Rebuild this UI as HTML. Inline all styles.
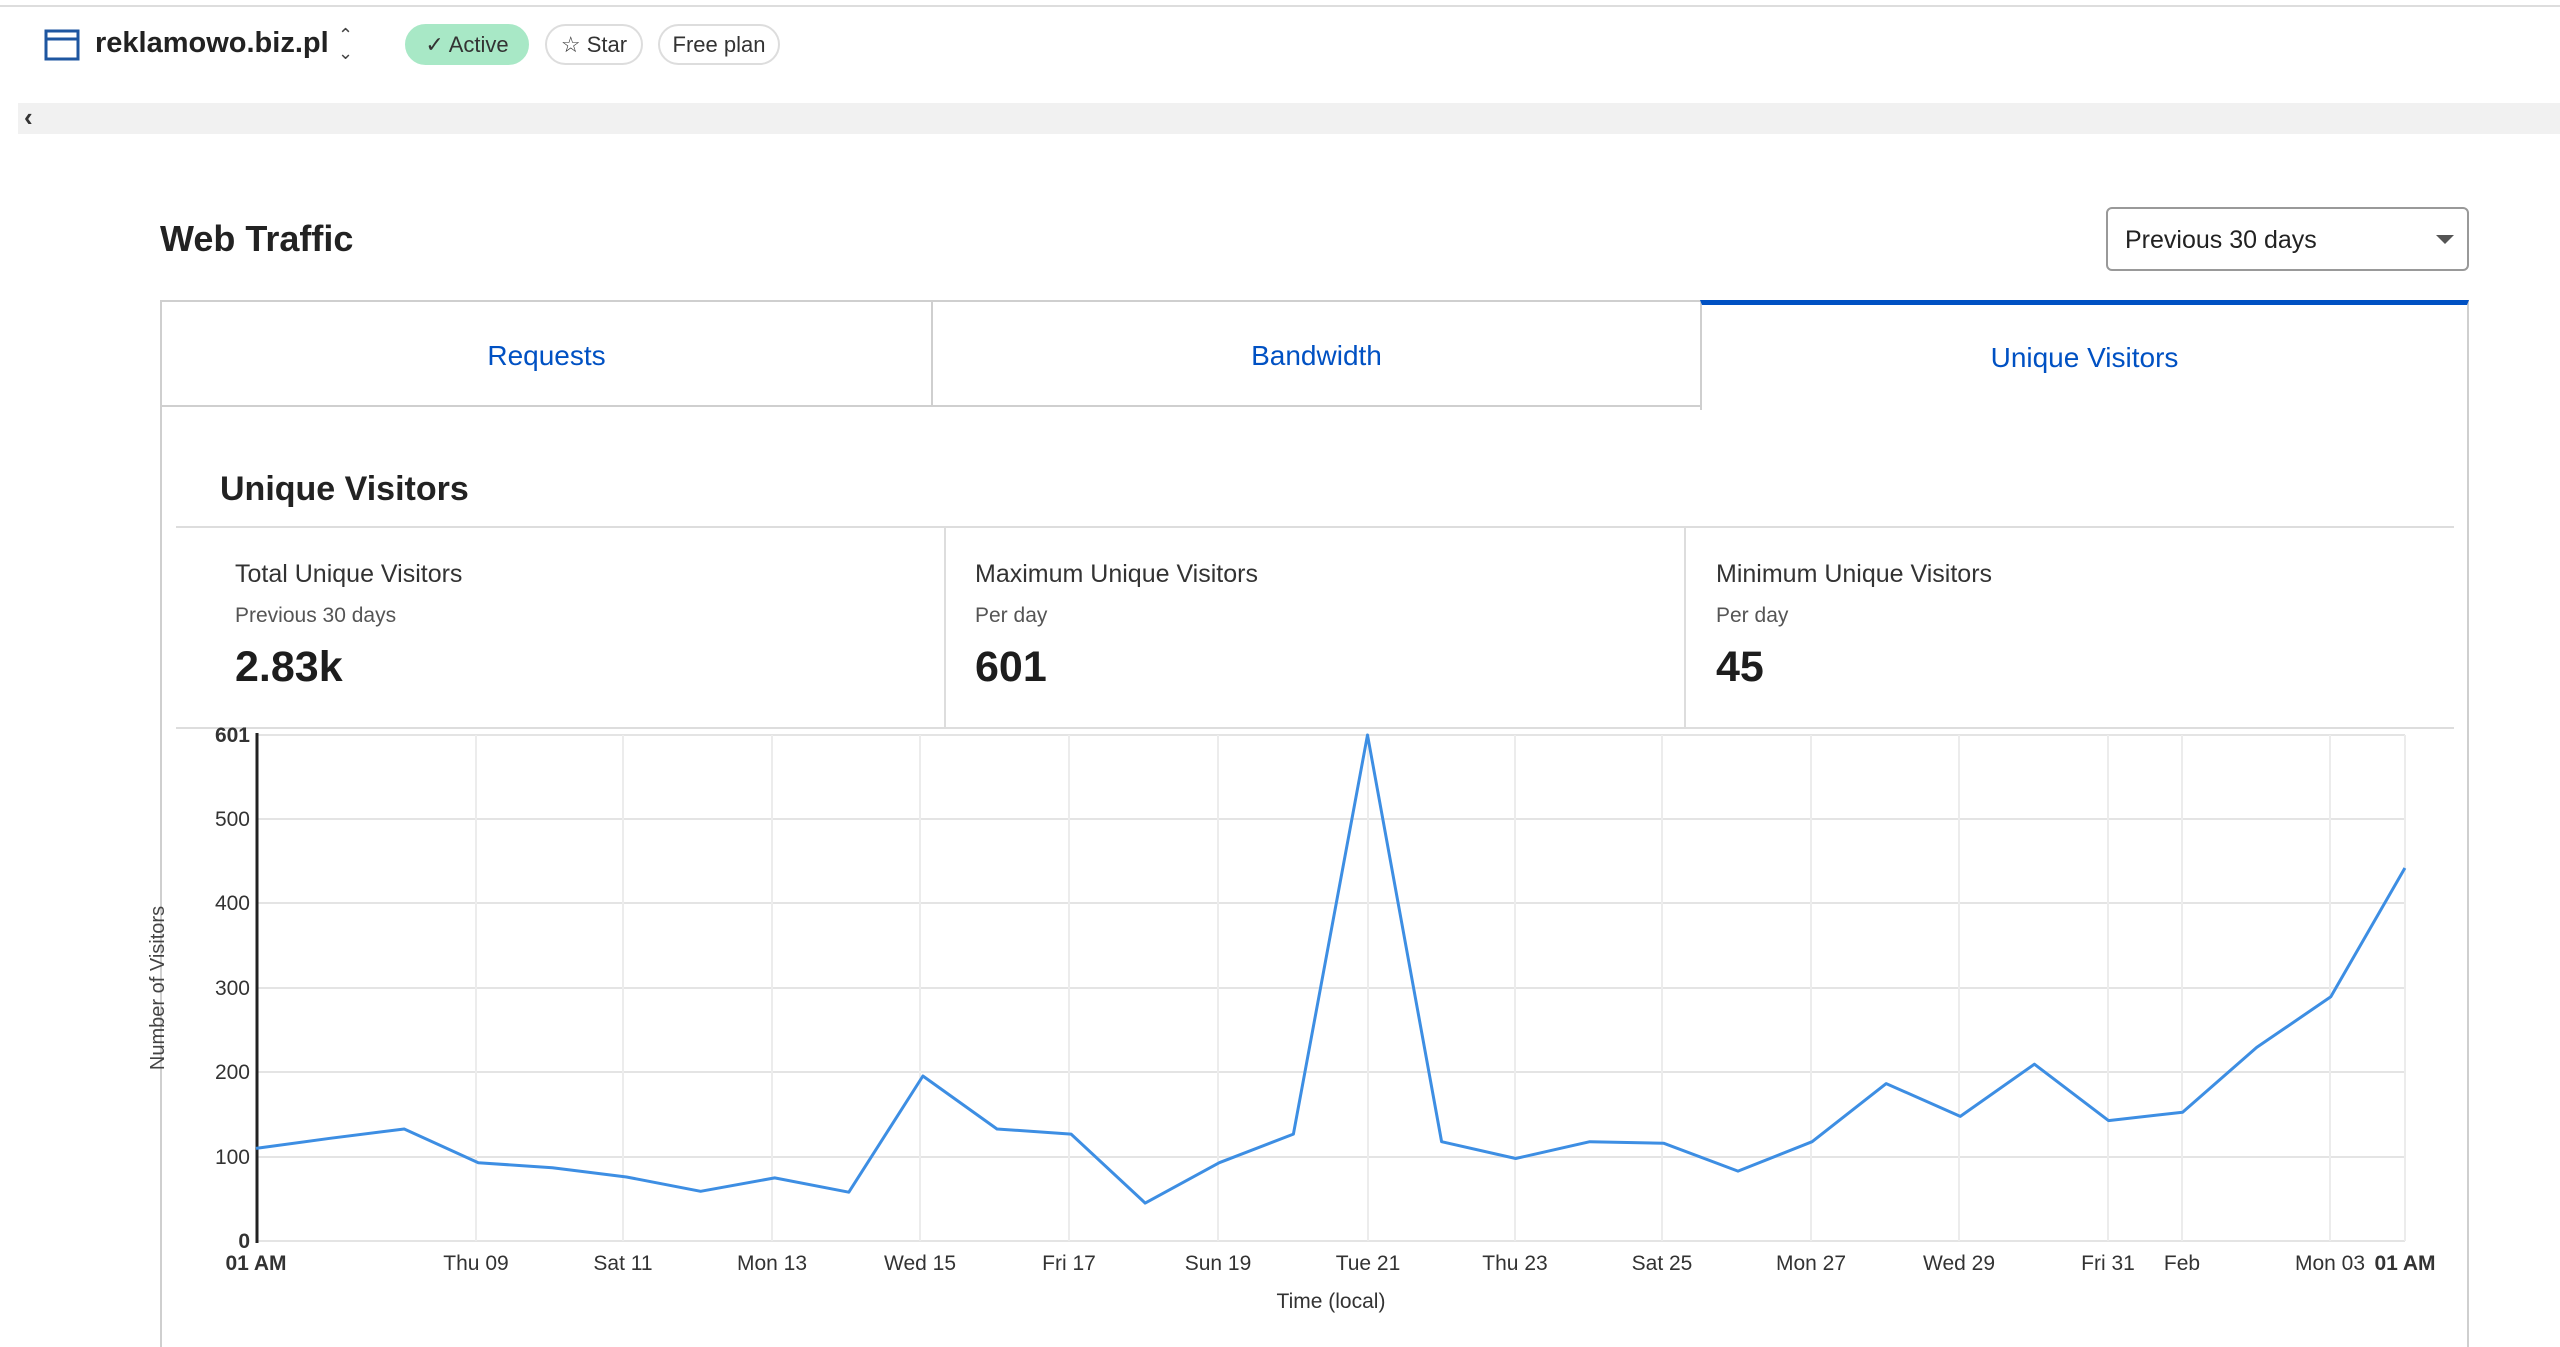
<!DOCTYPE html>
<html><head><meta charset="utf-8"><style>
body{margin:0;width:2560px;height:1347px;overflow:hidden;background:#fff;font-family:"Liberation Sans",sans-serif;color:#1d1d1d;position:relative}
.a{position:absolute}
.pill{position:absolute;top:24px;height:41px;border-radius:22px;border:2px solid #ddd;box-sizing:border-box;font-size:22px;line-height:38px;text-align:center;color:#333}
.tab{position:absolute;top:300px;height:107px;box-sizing:border-box;color:#0051c3;font-size:28px;text-align:center;line-height:107px;border:2px solid #cfcfcf;background:#fff}
.lbl{font-size:25px;color:#333}
.sub{font-size:21px;color:#555}
.val{font-size:43px;font-weight:bold;color:#1d1d1d}
</style></head><body>
<div class="a" style="left:0;top:5px;width:2560px;height:2px;background:#ddd"></div>
<svg class="a" style="left:44px;top:29px" width="36" height="32"><rect x="2" y="2" width="32" height="28" fill="none" stroke="#1e56a0" stroke-width="3"/><line x1="2" y1="10" x2="34" y2="10" stroke="#1e56a0" stroke-width="3"/></svg>
<div class="a" style="left:95px;top:27px;font-size:29px;font-weight:bold;color:#222">reklamowo.biz.pl</div>
<div class="a" style="left:338px;top:26px;font-size:18px;line-height:18px;color:#444">&#8963;<br>&#8964;</div>
<div class="pill" style="left:405px;width:124px;background:#a8e8c6;border-color:#a8e8c6">✓ Active</div>
<div class="pill" style="left:545px;width:98px">☆ Star</div>
<div class="pill" style="left:658px;width:122px">Free plan</div>
<div class="a" style="left:18px;top:103px;width:2542px;height:31px;background:#f1f1f1"></div>
<div class="a" style="left:24px;top:102px;font-size:26px;font-weight:bold;color:#333">‹</div>
<div class="a" style="left:160px;top:218px;font-size:36px;font-weight:bold;color:#222">Web Traffic</div>
<div class="a" style="left:2106px;top:207px;width:363px;height:64px;border:2px solid #999;border-radius:6px;box-sizing:border-box"></div>
<div class="a" style="left:2125px;top:226px;font-size:25px;color:#222">Previous 30 days</div>
<div class="a" style="left:2436px;top:235px;border-left:9px solid transparent;border-right:9px solid transparent;border-top:9px solid #555"></div>
<div class="a" style="left:160px;top:405px;width:2309px;height:942px;border-left:2px solid #cfcfcf;border-right:2px solid #cfcfcf;box-sizing:border-box"></div>
<div class="tab" style="left:160px;width:773px">Requests</div>
<div class="tab" style="left:931px;width:771px">Bandwidth</div>
<div class="tab" style="left:1700px;width:769px;border-top:5px solid #0051c3;border-bottom:none;line-height:105px;height:110px">Unique Visitors</div>
<div class="a" style="left:220px;top:470px;font-size:34px;font-weight:bold;color:#222">Unique Visitors</div>
<div class="a" style="left:176px;top:526px;width:2278px;height:2px;background:#ddd"></div>
<div class="a" style="left:176px;top:727px;width:2278px;height:2px;background:#ddd"></div>
<div class="a" style="left:944px;top:527px;width:2px;height:201px;background:#ddd"></div>
<div class="a" style="left:1684px;top:527px;width:2px;height:201px;background:#ddd"></div>
<div class="a lbl" style="left:235px;top:560px">Total Unique Visitors</div>
<div class="a sub" style="left:235px;top:604px">Previous 30 days</div>
<div class="a val" style="left:235px;top:643px">2.83k</div>
<div class="a lbl" style="left:975px;top:560px">Maximum Unique Visitors</div>
<div class="a sub" style="left:975px;top:604px">Per day</div>
<div class="a val" style="left:975px;top:643px">601</div>
<div class="a lbl" style="left:1716px;top:560px">Minimum Unique Visitors</div>
<div class="a sub" style="left:1716px;top:604px">Per day</div>
<div class="a val" style="left:1716px;top:643px">45</div>
<svg class="a" style="left:0;top:0" width="2560" height="1347" font-family="Liberation Sans, sans-serif">
<g stroke="#e4e4e4" stroke-width="2">
<line x1="256" y1="735" x2="2405" y2="735"/>
<line x1="256" y1="819" x2="2405" y2="819"/>
<line x1="256" y1="903" x2="2405" y2="903"/>
<line x1="256" y1="988" x2="2405" y2="988"/>
<line x1="256" y1="1072" x2="2405" y2="1072"/>
<line x1="256" y1="1157" x2="2405" y2="1157"/>
<line x1="256" y1="1241" x2="2405" y2="1241"/>
</g>
<g stroke="#ececec" stroke-width="2" id="vg"></g>
<line x1="257" y1="733" x2="257" y2="1243" stroke="#222" stroke-width="3"/>
<g font-size="21" fill="#333" text-anchor="end">
<text x="250" y="742" font-weight="bold">601</text>
<text x="250" y="826">500</text><text x="250" y="910">400</text><text x="250" y="995">300</text><text x="250" y="1079">200</text><text x="250" y="1164">100</text>
<text x="250" y="1248" font-weight="bold">0</text>
</g>
<g font-size="21" fill="#333" text-anchor="middle" id="xl"></g>
<text transform="translate(164,988) rotate(-90)" font-size="20" fill="#444" text-anchor="middle">Number of Visitors</text>
<text x="1331" y="1308" font-size="21" fill="#333" text-anchor="middle">Time (local)</text>
<polyline id="ln" fill="none" stroke="#3d8ee3" stroke-width="3" stroke-linejoin="round"/>
</svg>
<script>
var v=[110,122,133,93,87,76,59,75,58,196,133,127,45,93,127,601,118,98,118,116,83,118,187,148,210,143,153,230,290,443];
var p=v.map(function(y,i){return (256+i*74.1).toFixed(1)+","+(1241-y*506/601).toFixed(1)}).join(" ");
document.getElementById("ln").setAttribute("points",p);
var ticks=[[2,"Thu 09"],[4,"Sat 11"],[6,"Mon 13"],[8,"Wed 15"],[10,"Fri 17"],[12,"Sun 19"],[14,"Tue 21"],[16,"Thu 23"],[18,"Sat 25"],[20,"Mon 27"],[22,"Wed 29"],[24,"Fri 31"],[25,"Feb"],[27,"Mon 03"]];
var ns="http://www.w3.org/2000/svg",vg=document.getElementById("vg"),xl=document.getElementById("xl");
function t(x,s,b){var e=document.createElementNS(ns,"text");e.setAttribute("x",x);e.setAttribute("y",1270);if(b)e.setAttribute("font-weight","bold");e.textContent=s;xl.appendChild(e);}
ticks.forEach(function(k){var x=(256+(k[0]+1.0)*74.1*0+k[0]*74.1*29/27*0);});
var px=[476,623,772,920,1069,1218,1368,1515,1662,1811,1959,2108,2182,2330];
ticks.forEach(function(k,i){var l=document.createElementNS(ns,"line");l.setAttribute("x1",px[i]);l.setAttribute("x2",px[i]);l.setAttribute("y1",735);l.setAttribute("y2",1241);vg.appendChild(l);t(px[i],k[1]);});
var l=document.createElementNS(ns,"line");l.setAttribute("x1",2405);l.setAttribute("x2",2405);l.setAttribute("y1",735);l.setAttribute("y2",1241);vg.appendChild(l);
t(256,"01 AM",1);t(2405,"01 AM",1);
</script>
</body></html>
